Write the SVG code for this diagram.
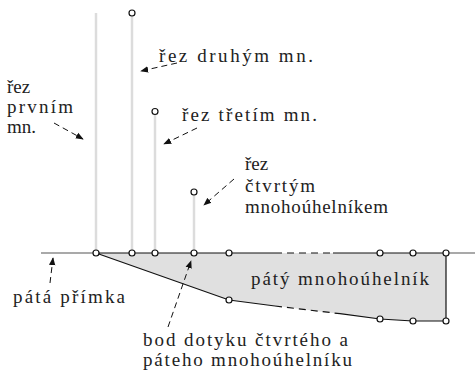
<svg xmlns="http://www.w3.org/2000/svg" width="475" height="371" viewBox="0 0 475 371">
<style>
.lbl{font-family:"Liberation Serif","Times New Roman",serif;font-size:19px;fill:#222}
.cut{stroke:#dcdcdc;stroke-width:2.5;fill:none}
.e{stroke:#111;stroke-width:1.2;fill:none}
.ed{stroke:#111;stroke-width:1.2;fill:none;stroke-dasharray:7 5}
.base{stroke:#555;stroke-width:1.2;fill:none}
.pt{fill:#fff;stroke:#111;stroke-width:1.2}
.ar{stroke:#111;stroke-width:1;fill:none;stroke-dasharray:6 4;marker-end:url(#ah)}
</style>
<defs>
<marker id="ah" viewBox="0 0 10 10" refX="9" refY="5" markerWidth="8" markerHeight="8" markerUnits="userSpaceOnUse" orient="auto">
<path d="M0,1 L10,5 L0,9 Z" fill="#111"/>
</marker>
</defs>
<g id="polygon5">
<path d="M96,253 L446,253 L446,321 L413,321 L380,319 L229,300 Z" fill="#e0e0e0" stroke="none"/>
<path class="e" d="M96,253 H275 M333,253 H446 V321 L413,321 L380,319 L340,313.7 M275,306 L229,300 L96,253"/>
<path class="ed" d="M275,253 H333 M275,306 L340,313.7"/>
</g>
<g id="line5">
<path class="base" d="M41,253 H96 M446,253 H475"/>
</g>
<g id="cuts">
<line class="cut" x1="96" y1="13" x2="96" y2="253"/>
<line class="cut" x1="132" y1="16" x2="132" y2="253"/>
<line class="cut" x1="155" y1="114" x2="155" y2="253"/>
<line class="cut" x1="194" y1="195" x2="194" y2="253"/>
</g>
<g id="points">
<circle class="pt" cx="132" cy="13" r="3"/>
<circle class="pt" cx="155" cy="111.5" r="3"/>
<circle class="pt" cx="194" cy="192" r="3"/>
<circle class="pt" cx="96" cy="253" r="3"/>
<circle class="pt" cx="132" cy="253" r="3"/>
<circle class="pt" cx="155" cy="253" r="3"/>
<circle class="pt" cx="194" cy="253" r="3"/>
<circle class="pt" cx="229" cy="253" r="3"/>
<circle class="pt" cx="380" cy="253" r="3"/>
<circle class="pt" cx="413" cy="253" r="3"/>
<circle class="pt" cx="446" cy="253" r="3"/>
<circle class="pt" cx="229" cy="300" r="3"/>
<circle class="pt" cx="380" cy="319" r="3"/>
<circle class="pt" cx="413" cy="321" r="3"/>
<circle class="pt" cx="446" cy="321" r="3"/>
</g>
<g id="connectors">
<line class="ar" x1="177" y1="63" x2="141" y2="71"/>
<line class="ar" x1="54" y1="123" x2="83" y2="139"/>
<line class="ar" x1="197" y1="128" x2="164" y2="144"/>
<line class="ar" x1="234" y1="179" x2="204" y2="205"/>
<line class="ar" x1="50" y1="283" x2="53" y2="258"/>
<line class="ar" x1="168" y1="327" x2="191" y2="261"/>
</g>
<g id="label-druhy"><text class="lbl" x="159" y="62" textLength="154" lengthAdjust="spacing">řez druhým mn.</text></g>
<g id="label-prvni"><text class="lbl" x="7" y="93">řez</text><text class="lbl" x="7" y="113" textLength="66" lengthAdjust="spacing">prvním</text><text class="lbl" x="7" y="133">mn.</text></g>
<g id="label-treti"><text class="lbl" x="182" y="121" textLength="135" lengthAdjust="spacing">řez třetím mn.</text></g>
<g id="label-ctvrty"><text class="lbl" x="245" y="170">řez</text><text class="lbl" x="245" y="192" textLength="70" lengthAdjust="spacing">čtvrtým</text><text class="lbl" x="245" y="213" textLength="143" lengthAdjust="spacing">mnohoúhelníkem</text></g>
<g id="label-primka"><text class="lbl" x="13" y="303" textLength="112" lengthAdjust="spacing">pátá přímka</text></g>
<g id="label-paty"><text class="lbl" x="251" y="285" textLength="178" lengthAdjust="spacing">pátý mnohoúhelník</text></g>
<g id="label-bod"><text class="lbl" x="143" y="346" textLength="205" lengthAdjust="spacing">bod dotyku čtvrtého a</text><text class="lbl" x="143" y="366" textLength="209" lengthAdjust="spacing">páteho mnohoúhelníku</text></g>
</svg>
